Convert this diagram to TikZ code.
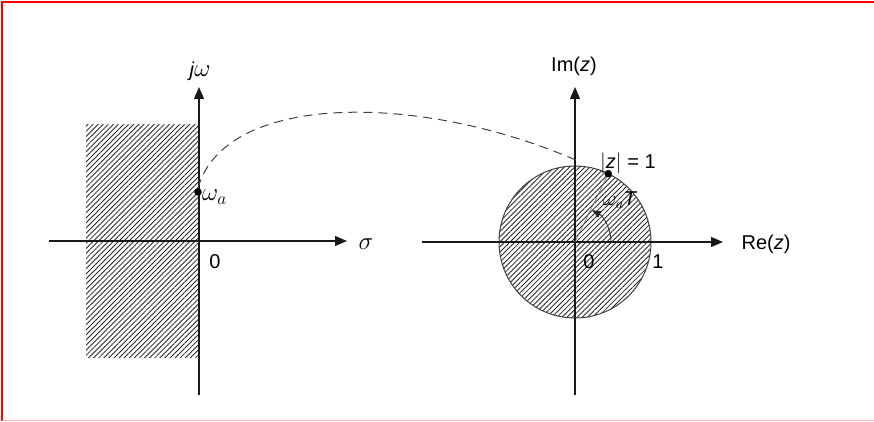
\documentclass[tikz,border=0pt]{standalone}
\usepackage{fontspec}
\setmainfont{Liberation Sans}
\usetikzlibrary{arrows.meta,patterns.meta,calc}
\begin{document}
\begin{tikzpicture}[x=1pt,y=1pt,
  axis/.style={line width=1.2pt,draw=black!90,-{Triangle[length=12pt,width=10pt]}},
  hatch/.style={pattern={Lines[angle=45,distance=3.6pt,line width=0.85pt]},pattern color=black!85},
  lbl/.style={font=\fontsize{20}{24}\selectfont,inner sep=0pt},
  mlbl/.style={font=\fontsize{25}{30}\selectfont,inner sep=0pt},
  dotst/.style={circle,fill=black,inner sep=0pt,minimum size=7.5pt}]
\useasboundingbox (0,0) rectangle (874,421);
% frame
\draw[color=red,line width=2pt] (1.5,0) -- (1.5,419) -- (874,419);
\draw[color=red!30,line width=1pt] (1.5,1) -- (874,1);
% left half-plane
\fill[hatch] (86,64) rectangle (199,296);
\coordinate (Lb) at (199,26);
\coordinate (Lt) at (199,334);
\coordinate (Ll) at (49,180);
\coordinate (Lr) at (347,180);
\draw[axis] (Lb) -- (Lt);
\draw[axis] (Ll) -- (Lr);
\node[mlbl] (sigma) at (366,177) {$\sigma$};
\node[lbl] (jw) at (200,350) {\textit{j}{\fontsize{24}{28}\selectfont$\omega$}};
\node[lbl] (zL) at (215,159) {0};
\node[dotst] (wa) at (198,229) {};
\node[mlbl,anchor=west] (walbl) at (202,224) {$\omega_a$};
% right z-plane
\coordinate (O) at (575,179);
\fill[hatch] (O) circle (76);
\draw[black!75,line width=1pt] (O) circle (76);
\coordinate (Rb) at (575,26);
\coordinate (Rt) at (575,334);
\coordinate (Rl) at (422,179);
\coordinate (Rr) at (723,179);
\draw[axis] (Rb) -- (Rt);
\draw[axis] (Rl) -- (Rr);
\node[lbl] (re) at (766,177) {Re(\textit{z})};
\node[lbl] (im) at (574,355) {Im(\textit{z})};
\node[lbl] (zR) at (589,159) {0};
\node[lbl] (one) at (658,159) {1};
\node[dotst] (p) at ($(O)+(64:76)$) {};
\draw[black!60,line width=0.5pt] (O) -- (p);
\draw[line width=0.8pt,black!85,-{Triangle[length=9pt,width=7pt]}] ($(O)+(0:36)$) arc[start angle=0,end angle=62,radius=36];
\node[lbl,anchor=west] (wT) at (603,221) {{\fontsize{22}{26}\selectfont$\omega_a$}\textit{T}};
\node[lbl,anchor=west] (zabs) at (600,258) {$\bigl|$\textit{z}$\bigr|$ = 1};
% mapping curve
\draw[dashed,dash pattern=on 9pt off 6pt,line width=1pt,black!75] (wa.north) .. controls (225,329) and (420,329) .. (578,260);
\end{tikzpicture}
\end{document}
